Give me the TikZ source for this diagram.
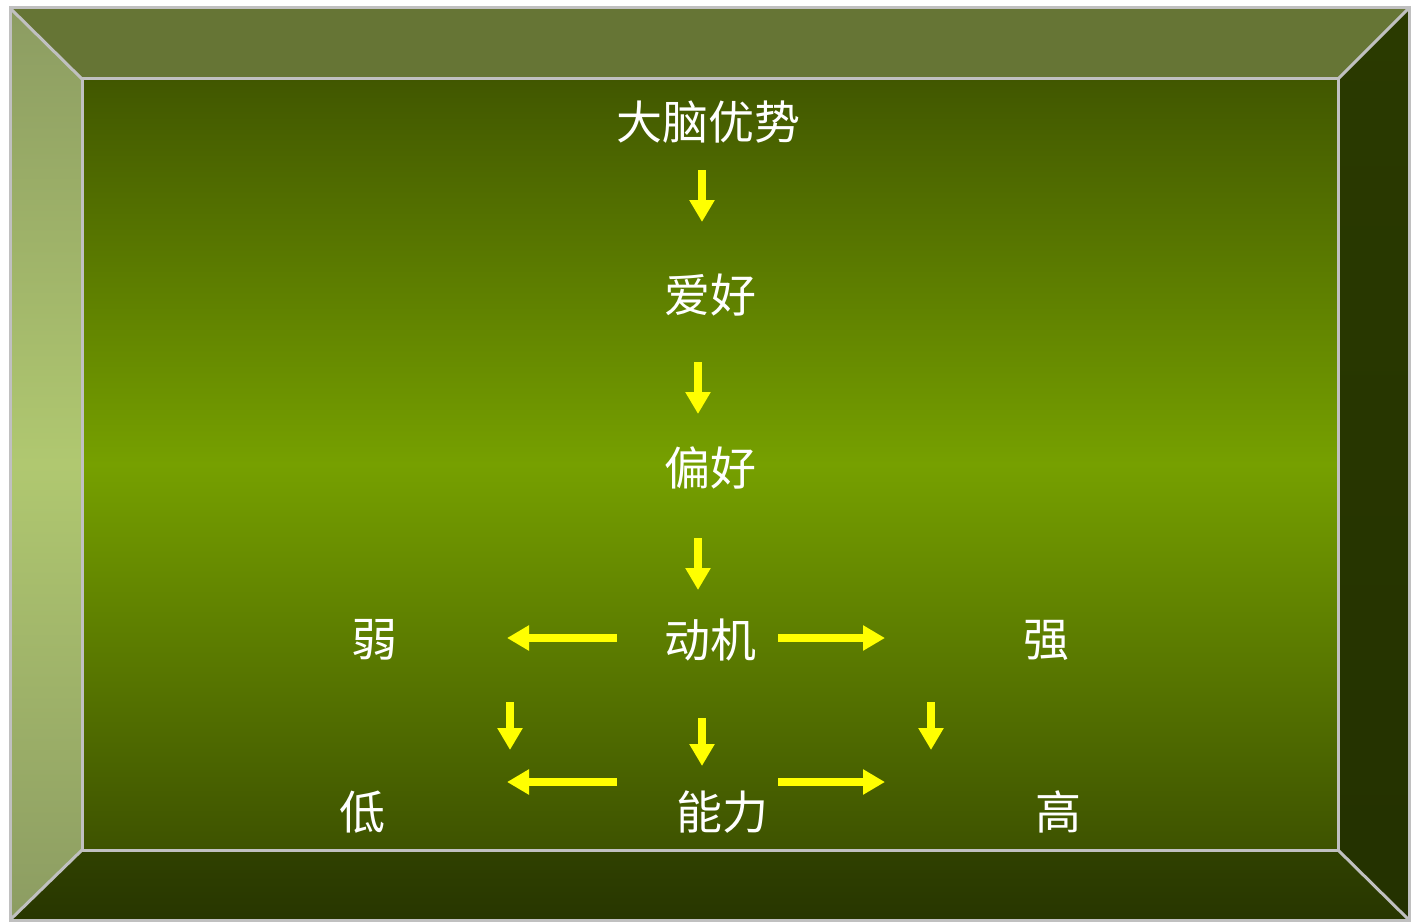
\documentclass[tikz,border=0pt]{standalone}
\usepackage{fontspec}
\newfontfamily\cjk{Noto Sans CJK SC}
\usetikzlibrary{arrows.meta}
\definecolor{topc}{HTML}{667535}
\definecolor{leftend}{HTML}{8C9C62}
\definecolor{leftmid}{HTML}{B0C870}
\definecolor{rightc}{HTML}{2A3A00}
\definecolor{botc}{HTML}{2C3C00}
\definecolor{indark}{HTML}{415700}
\definecolor{inmid}{HTML}{76A000}
\definecolor{edge}{HTML}{C0C0C0}
\definecolor{arr}{HTML}{FFFF00}
\tikzset{
  lbl/.style={text=white, font=\cjk\fontsize{46}{52}\selectfont, inner sep=0pt},
  yarrow/.style={draw=arr, line width=8pt, -{Triangle[width=24pt,length=22pt]}, fill=arr},
  bevel/.style={draw=edge, line width=3pt, line join=miter}
}
\begin{document}
\begin{tikzpicture}[x=1pt,y=-1pt]
\useasboundingbox (0,0) rectangle (1412,923);
\fill[white] (0,0) rectangle (1412,923);
% bevel faces
\fill[topc] (10,8) -- (1409,8) -- (1338,79) -- (82,79) -- cycle;
\path[top color=leftend, bottom color=leftend, middle color=leftmid]
  (10,8) -- (82,79) -- (82,850) -- (10,920) -- cycle;
\path[top color=rightc, bottom color=rightc!85!black]
  (1409,8) -- (1409,920) -- (1338,850) -- (1338,79) -- cycle;
\path[top color=botc!95!inmid, bottom color=botc!90!black]
  (10,920) -- (82,850) -- (1338,850) -- (1409,920) -- cycle;
% inner panel
\path[top color=indark, bottom color=indark!95!black, middle color=inmid]
  (82,79) rectangle (1338,850);
% edges
\draw[bevel] (10,8) rectangle (1409,920);
\draw[bevel] (82,79) rectangle (1338,850);
\draw[bevel] (10,8) -- (82,79);
\draw[bevel] (1409,8) -- (1338,79);
\draw[bevel] (10,920) -- (82,850);
\draw[bevel] (1409,920) -- (1338,850);
% labels
\node[lbl] (dnys) at (708,122) {大脑优势};
\node[lbl] (ah) at (710,295) {爱好};
\node[lbl] (ph) at (710,468) {偏好};
\node[lbl] (dj) at (710,640) {动机};
\node[lbl] (ruo) at (374,640) {弱};
\node[lbl] (qiang) at (1046,640) {强};
\node[lbl] (di) at (362,812) {低};
\node[lbl] (nl) at (722,812) {能力};
\node[lbl] (gao) at (1058,812) {高};
% arrow end coordinates
\coordinate (a1s) at (702,170); \coordinate (a1e) at (702,222);
\coordinate (a2s) at (698,362); \coordinate (a2e) at (698,414);
\coordinate (a3s) at (698,538); \coordinate (a3e) at (698,590);
\coordinate (a4s) at (617,638); \coordinate (a4e) at (507,638);
\coordinate (a5s) at (778,638); \coordinate (a5e) at (885,638);
\coordinate (a6s) at (510,702); \coordinate (a6e) at (510,750);
\coordinate (a7s) at (702,718); \coordinate (a7e) at (702,766);
\coordinate (a8s) at (931,702); \coordinate (a8e) at (931,750);
\coordinate (a9s) at (617,782); \coordinate (a9e) at (507,782);
\coordinate (a10s) at (778,782); \coordinate (a10e) at (885,782);
\foreach \i in {1,...,10} {\draw[yarrow] (a\i s) -- (a\i e);}
\end{tikzpicture}
\end{document}
